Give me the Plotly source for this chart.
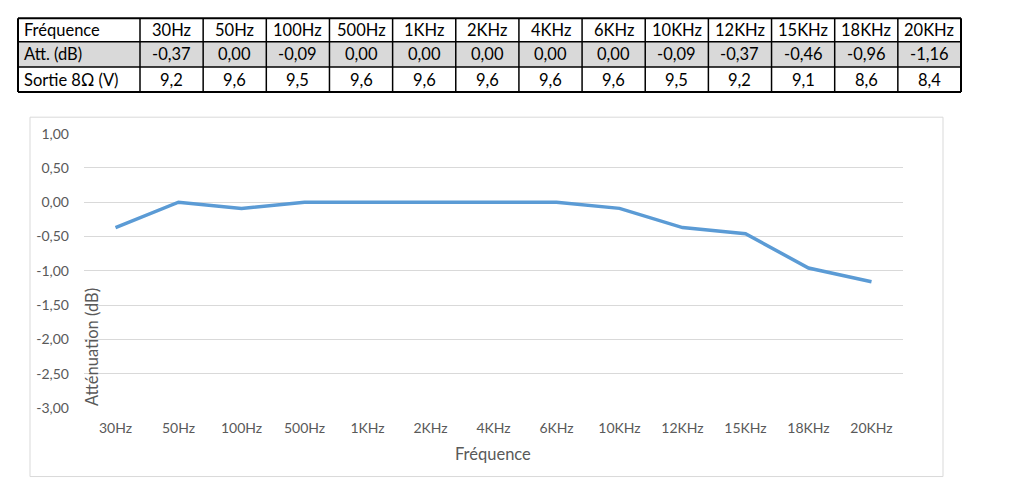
import plotly.graph_objects as go

# ---- data ----
freqs = ["30Hz", "50Hz", "100Hz", "500Hz", "1KHz", "2KHz", "4KHz", "6KHz",
         "10KHz", "12KHz", "15KHz", "18KHz", "20KHz"]
att_db = [-0.37, 0.00, -0.09, 0.00, 0.00, 0.00, 0.00, 0.00, -0.09, -0.37, -0.46, -0.96, -1.16]
sortie_v = [9.2, 9.6, 9.5, 9.6, 9.6, 9.6, 9.6, 9.6, 9.5, 9.2, 9.1, 8.6, 8.4]
row_labels = ["Fréquence", "Att. (dB)", "Sortie 8Ω (V)"]
y_ticks = [1.0, 0.5, 0.0, -0.5, -1.0, -1.5, -2.0, -2.5, -3.0]

W, H = 1020, 500
def X(p): return p / W
def Y(p): return 1 - p / H

def fr(v, d):
    return f"{v:.{d}f}".replace(".", ",")

FONT = "Lato"
GREY_TXT = "#595959"
TABLE_SIZE = 16.5

fig = go.Figure()
fig.add_trace(go.Scatter(
    x=freqs, y=att_db, mode="lines",
    line=dict(color="#5b9bd5", width=3.5),
    hoverinfo="x+y",
))

shapes = []
annos = []

# ---- chart frame ----
shapes.append(dict(type="rect", xref="paper", yref="paper",
                   x0=X(30), x1=X(943), y0=Y(112), y1=Y(484),
                   line=dict(color="#d9d9d9", width=1), layer="below"))

# ---- table ----
col0_l, col0_r, t_right = 18, 140, 961
row_edges = [9.5, 34, 60, 86]
ncol = len(freqs)
cw = (t_right - col0_r) / ncol
col_edges = [col0_l, col0_r] + [col0_r + cw * (i + 1) for i in range(ncol)]

# grey row fill
shapes.append(dict(type="rect", xref="paper", yref="paper",
                   x0=X(col0_l), x1=X(t_right), y0=Y(row_edges[1]), y1=Y(row_edges[2]),
                   fillcolor="#d9d9d9", line=dict(width=0), layer="above"))
# horizontal lines
for i, ry in enumerate(row_edges):
    w = 2 if i in (0, len(row_edges) - 1) else 1.5
    shapes.append(dict(type="line", xref="paper", yref="paper",
                       x0=X(col0_l), x1=X(t_right), y0=Y(ry), y1=Y(ry),
                       line=dict(color="black", width=w)))
# vertical lines
for i, cx in enumerate(col_edges):
    w = 2 if i in (0, len(col_edges) - 1) else 1.5
    shapes.append(dict(type="line", xref="paper", yref="paper",
                       x0=X(cx), x1=X(cx), y0=Y(row_edges[0]), y1=Y(row_edges[-1]),
                       line=dict(color="black", width=w)))

rows = [freqs, [fr(v, 2) for v in att_db], [fr(v, 1) for v in sortie_v]]
for r in range(3):
    cy = (row_edges[r] + row_edges[r + 1]) / 2
    annos.append(dict(xref="paper", yref="paper", x=X(col0_l + 4), y=Y(cy),
                      text=row_labels[r], showarrow=False, xanchor="left", yanchor="middle",
                      font=dict(family=FONT, size=TABLE_SIZE, color="black")))
    for c in range(ncol):
        cx = (col_edges[c + 1] + col_edges[c + 2]) / 2
        annos.append(dict(xref="paper", yref="paper", x=X(cx), y=Y(cy),
                          text=rows[r][c], showarrow=False, xanchor="center", yanchor="middle",
                          font=dict(family=FONT, size=TABLE_SIZE, color="black")))

# ---- axis titles ----
annos.append(dict(xref="paper", yref="paper", x=X(493), y=Y(461), text="Fréquence",
                  showarrow=False, xanchor="center", yanchor="middle",
                  font=dict(family=FONT, size=16.5, color=GREY_TXT)))
annos.append(dict(xref="paper", yref="paper", x=X(92), y=Y(350), text="Atténuation (dB)",
                  showarrow=False, textangle=-90, xanchor="center", yanchor="middle",
                  font=dict(family=FONT, size=16.5, color=GREY_TXT)))

fig.update_layout(
    width=W, height=H,
    margin=dict(l=0, r=0, t=0, b=0),
    paper_bgcolor="white", plot_bgcolor="white",
    showlegend=False,
    font=dict(family=FONT, color=GREY_TXT, size=14),
    shapes=shapes, annotations=annos,
    xaxis=dict(domain=[X(84), X(903)], range=[-0.5, ncol - 0.5],
               showgrid=False, zeroline=False, showline=False,
               ticks="", ticklabelstandoff=10,
               tickfont=dict(family=FONT, size=14, color=GREY_TXT)),
    yaxis=dict(domain=[Y(413), Y(129)], range=[-3, 1],
               tickvals=y_ticks, ticktext=[fr(v, 2) for v in y_ticks],
               showgrid=True, gridcolor="#d9d9d9", gridwidth=1,
               zeroline=False, showline=False, ticks="", ticklabelstandoff=14,
               tickfont=dict(family=FONT, size=14, color=GREY_TXT)),
)

fig.write_html("out.html")
